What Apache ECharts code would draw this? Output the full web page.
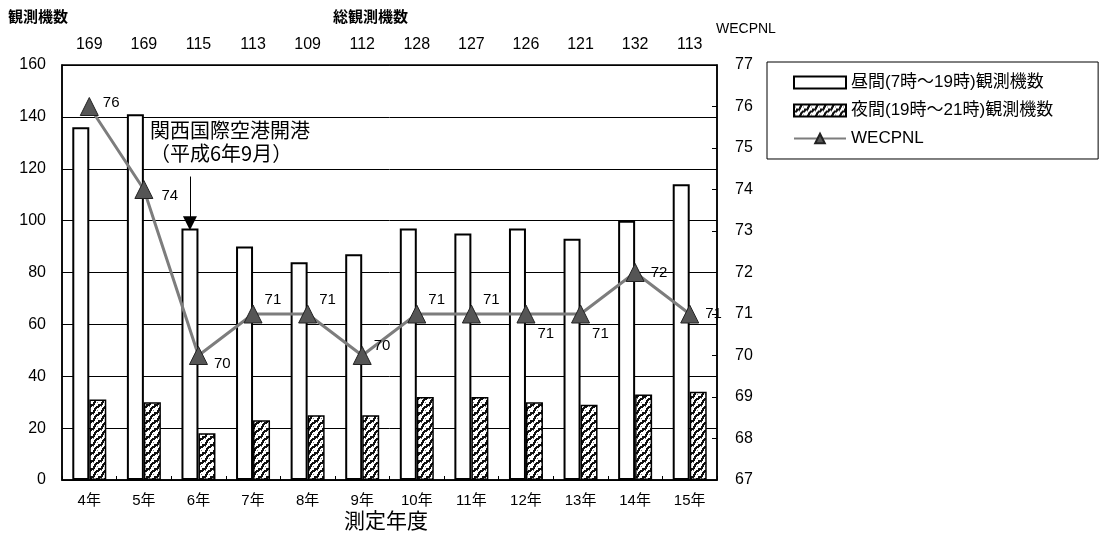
<!DOCTYPE html>
<html><head><meta charset="utf-8">
<script src="https://cdn.jsdelivr.net/npm/echarts@6/dist/echarts.min.js"></script>
<style>html,body{margin:0;padding:0;background:#fff}#c{width:1108px;height:545px}</style>
</head><body><div id="c"></div>
<script>
const categories = ['4年','5年','6年','7年','8年','9年','10年','11年','12年','13年','14年','15年'];
const totalCounts = [169,169,115,113,109,112,128,127,126,121,132,113];
const dayCounts = [136,141,97,90,84,87,97,95,97,93,100,114];
const nightCounts = [31,30,18,23,25,25,32,32,30,29,33,34];
const wecpnl = [76,74,70,71,71,70,71,71,71,71,72,71];
const leftTicks = {min:0, max:160, interval:20};
const rightTicks = {min:67, max:77, interval:1};

const FONT = "'Liberation Sans','Noto Sans CJK JP',sans-serif";

function makePattern(){
  const c = document.createElement('canvas'); c.width = 8; c.height = 8;
  const g = c.getContext('2d');
  g.fillStyle = '#fff'; g.fillRect(0,0,8,8);
  g.fillStyle = '#111';
  g.fillRect(0,6,3,2); g.fillRect(2,4,2,3); g.fillRect(3,4,3,2); g.fillRect(5,2,2,3);
  g.fillRect(6,0,2,3); g.fillRect(0,0,1,1); g.fillRect(7,7,1,1);
  g.fillStyle = '#777'; g.fillRect(1,2,1,1); g.fillRect(5,6,1,1);
  return c;
}

// label offsets for WECPNL values (style only)
const labelOffsets = [[-2,-4],[2,6],[0,8],[-4,-14],[-4,-14],[-4,-10],[-4,-14],[-4,-14],[-4,20],[-4,20],[0,0],[0,0]];

const chart = echarts.init(document.getElementById('c'));
chart.setOption({
  animation:false,
  textStyle:{fontFamily:FONT},
  grid:{left:62, right:391, top:65, bottom:65, show:true, borderColor:'#000', borderWidth:1.5},
  legend:{
    orient:'vertical', left:767, top:62,
    padding:[12,45,12,26], itemGap:11, itemWidth:52, itemHeight:12,
    borderColor:'#000', borderWidth:1, borderRadius:0,
    textStyle:{fontFamily:FONT, fontSize:17, color:'#000'},
    data:[{name:'昼間(7時～19時)観測機数', icon:'rect'},{name:'夜間(19時～21時)観測機数', icon:'rect'},{name:'WECPNL'}]
  },
  xAxis:[
    {type:'category', data:categories, position:'bottom',
     axisLine:{show:true, lineStyle:{color:'#000', width:1.5}},
     axisTick:{show:true, inside:true, length:4, lineStyle:{color:'#000'}},
     axisLabel:{color:'#000', fontSize:15, margin:13, fontFamily:FONT}},
    {type:'category', data:totalCounts.map(String), position:'top',
     axisLine:{show:false}, axisTick:{show:false},
     axisLabel:{color:'#000', fontSize:16, margin:12, fontFamily:FONT}}
  ],
  yAxis:[
    {type:'value', min:leftTicks.min, max:leftTicks.max, interval:leftTicks.interval,
     axisLine:{show:true, lineStyle:{color:'#000', width:1.5}},
     axisTick:{show:false},
     splitLine:{show:true, lineStyle:{color:'#000', width:1}},
     axisLabel:{color:'#000', fontSize:16, margin:16, fontFamily:FONT}},
    {type:'value', min:rightTicks.min, max:rightTicks.max, interval:rightTicks.interval, position:'right',
     axisLine:{show:true, lineStyle:{color:'#000', width:1.5}},
     axisTick:{show:true, inside:true, length:5, lineStyle:{color:'#000'}},
     splitLine:{show:false},
     axisLabel:{color:'#000', fontSize:16, margin:18, fontFamily:FONT}}
  ],
  series:[
    {name:'昼間(7時～19時)観測機数', type:'bar', data:dayCounts, barWidth:17, barGap:'0%',
     itemStyle:{color:'#fff', borderColor:'#000', borderWidth:2},
     markLine:{silent:true, symbol:['none','triangle'], symbolSize:[14,14],
       lineStyle:{color:'#000', width:1, type:'solid'},
       itemStyle:{color:'#444'},
       label:{show:false},
       data:[[{coord:[categories[2], 117]},{coord:[categories[2], dayCounts[2]+2]}]]}
    },
    {name:'夜間(19時～21時)観測機数', type:'bar', data:nightCounts, barWidth:17,
     itemStyle:{color:{image:makePattern(), repeat:'repeat'}, borderColor:'#000', borderWidth:1.5}},
    {name:'WECPNL', type:'line', yAxisIndex:1,
     data:wecpnl.map((v,i)=>({value:v, label:{offset:labelOffsets[i]}})),
     symbol:'triangle', symbolSize:18,
     lineStyle:{color:'#7d7d7d', width:3},
     itemStyle:{color:'#555', borderColor:'#222', borderWidth:1},
     label:{show:true, position:'right', distance:6, color:'#000', fontSize:15, fontFamily:FONT},
     z:5}
  ],
  graphic:[
    {type:'text', left:8, top:9, style:{text:'観測機数', font:"bold 15px 'Noto Sans CJK JP'", fill:'#000'}},
    {type:'text', left:333, top:9, style:{text:'総観測機数', font:"bold 15px 'Noto Sans CJK JP'", fill:'#000'}},
    {type:'text', left:716, top:22, style:{text:'WECPNL', font:"14px 'Liberation Sans'", fill:'#000'}},
    {type:'text', left:344, top:510, style:{text:'測定年度', font:"21px 'Noto Sans CJK JP'", fill:'#000'}},
    {type:'text', left:150, top:119, z:10, style:{text:'関西国際空港開港\n（平成6年9月）', font:"20px 'Noto Sans CJK JP'", lineHeight:23, fill:'#000', backgroundColor:'#fff'}}
  ]
});
</script>
</body></html>
